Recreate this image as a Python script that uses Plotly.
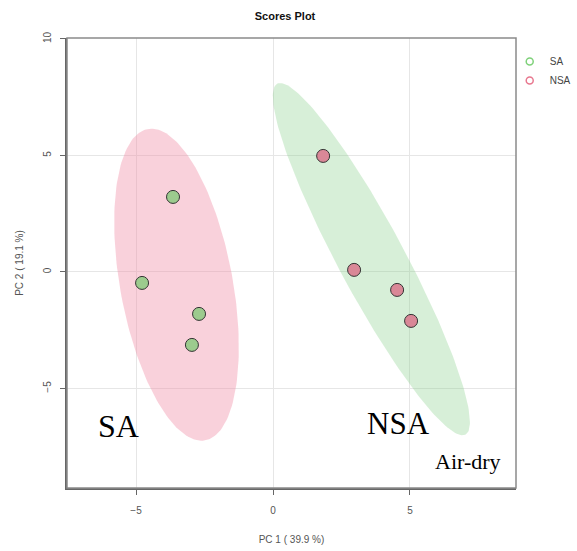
import numpy as np
import plotly.graph_objects as go

# ---- data ----
sa_pc1 = [-3.65, -4.78, -2.70, -2.96]
sa_pc2 = [3.22, -0.47, -1.80, -3.13]
nsa_pc1 = [1.83, 2.96, 4.53, 5.04]
nsa_pc2 = [4.98, 0.09, -0.77, -2.10]
group_names = ["SA", "NSA"]
x_ticks = [-5, 0, 5]
y_ticks = [-5, 0, 5, 10]
x_title = "PC 1 ( 39.9 %)"
y_title = "PC 2 ( 19.1 %)"
conf_level = 0.95


def conf_ellipse(x, y, level=0.95, n=200):
    x = np.asarray(x, float)
    y = np.asarray(y, float)
    cov = np.cov(np.vstack([x, y]))
    vals, vecs = np.linalg.eigh(cov)
    t = np.sqrt(-2 * np.log(1 - level))
    th = np.linspace(0, 2 * np.pi, n)
    circ = np.vstack([np.cos(th), np.sin(th)])
    pts = vecs @ (np.sqrt(vals)[:, None] * circ) * t
    return pts[0] + x.mean(), pts[1] + y.mean()


fig = go.Figure()

ex, ey = conf_ellipse(sa_pc1, sa_pc2, conf_level)
fig.add_trace(go.Scatter(x=ex, y=ey, mode="lines", fill="toself",
                         fillcolor="rgba(240,140,165,0.40)", line=dict(width=0),
                         hoverinfo="skip", showlegend=False))
ex, ey = conf_ellipse(nsa_pc1, nsa_pc2, conf_level)
fig.add_trace(go.Scatter(x=ex, y=ey, mode="lines", fill="toself",
                         fillcolor="rgba(130,205,135,0.32)", line=dict(width=0),
                         hoverinfo="skip", showlegend=False))

fig.add_trace(go.Scatter(x=sa_pc1, y=sa_pc2, mode="markers", showlegend=False,
                         marker=dict(size=13, color="#9ccb8e",
                                     line=dict(color="#333333", width=1))))
fig.add_trace(go.Scatter(x=nsa_pc1, y=nsa_pc2, mode="markers", showlegend=False,
                         marker=dict(size=13, color="#d98897",
                                     line=dict(color="#333333", width=1))))

# legend entries
fig.add_trace(go.Scatter(x=[None], y=[None], mode="markers", name=group_names[0],
                         marker=dict(symbol="circle-open", size=7, color="#7fd17a",
                                     line=dict(width=1.5))))
fig.add_trace(go.Scatter(x=[None], y=[None], mode="markers", name=group_names[1],
                         marker=dict(symbol="circle-open", size=7, color="#e8788f",
                                     line=dict(width=1.5))))

serif = "Liberation Serif, Times New Roman, serif"
fig.add_annotation(x=-5.65, y=-6.6, text="SA", showarrow=False,
                   font=dict(family=serif, size=32, color="black"))
fig.add_annotation(x=4.57, y=-6.5, text="NSA", showarrow=False,
                   font=dict(family=serif, size=31, color="black"))
fig.add_annotation(x=7.1, y=-8.15, text="Air-dry", showarrow=False,
                   font=dict(family=serif, size=22, color="black"))

# plot border (top/right lighter)
fig.add_shape(type="rect", xref="paper", yref="paper", x0=0, y0=0, x1=1, y1=1,
              line=dict(color="#8a8a8a", width=1.5), layer="above")

fig.update_layout(
    width=577, height=551,
    margin=dict(l=67, r=61, t=38, b=63, autoexpand=False),
    paper_bgcolor="white", plot_bgcolor="white",
    font=dict(family="Liberation Sans, Arial, sans-serif", size=10, color="#555555"),
    title=dict(text="<b>Scores Plot</b>", x=0.494, xanchor="center", y=0.971,
               yanchor="middle", font=dict(size=11, color="#111111")),
    legend=dict(x=0.986, y=0.98, xanchor="left", yanchor="top",
                font=dict(size=10, color="#444444"), tracegroupgap=0,
                itemwidth=30, bgcolor="rgba(0,0,0,0)"),
    xaxis=dict(range=[-7.52, 8.87], tickvals=x_ticks, showgrid=True,
               gridcolor="#e6e6e6", gridwidth=1, zeroline=False,
               showline=True, linecolor="#666666", linewidth=2,
               ticks="outside", ticklen=5, tickcolor="#666666",
               ticklabelstandoff=7,
               tickfont=dict(size=10, color="#555555"),
               title=dict(text=x_title, font=dict(size=10, color="#555555"), standoff=21)),
    yaxis=dict(range=[-9.27, 10.04], tickvals=y_ticks, showgrid=True,
               gridcolor="#e6e6e6", gridwidth=1, zeroline=False,
               showline=True, linecolor="#666666", linewidth=2,
               ticks="outside", ticklen=5, tickcolor="#666666", tickangle=-90,
               ticklabelstandoff=5,
               tickfont=dict(size=10, color="#555555"),
               title=dict(text=y_title, font=dict(size=10, color="#555555"), standoff=17)),
)

fig.write_html("out.html")
